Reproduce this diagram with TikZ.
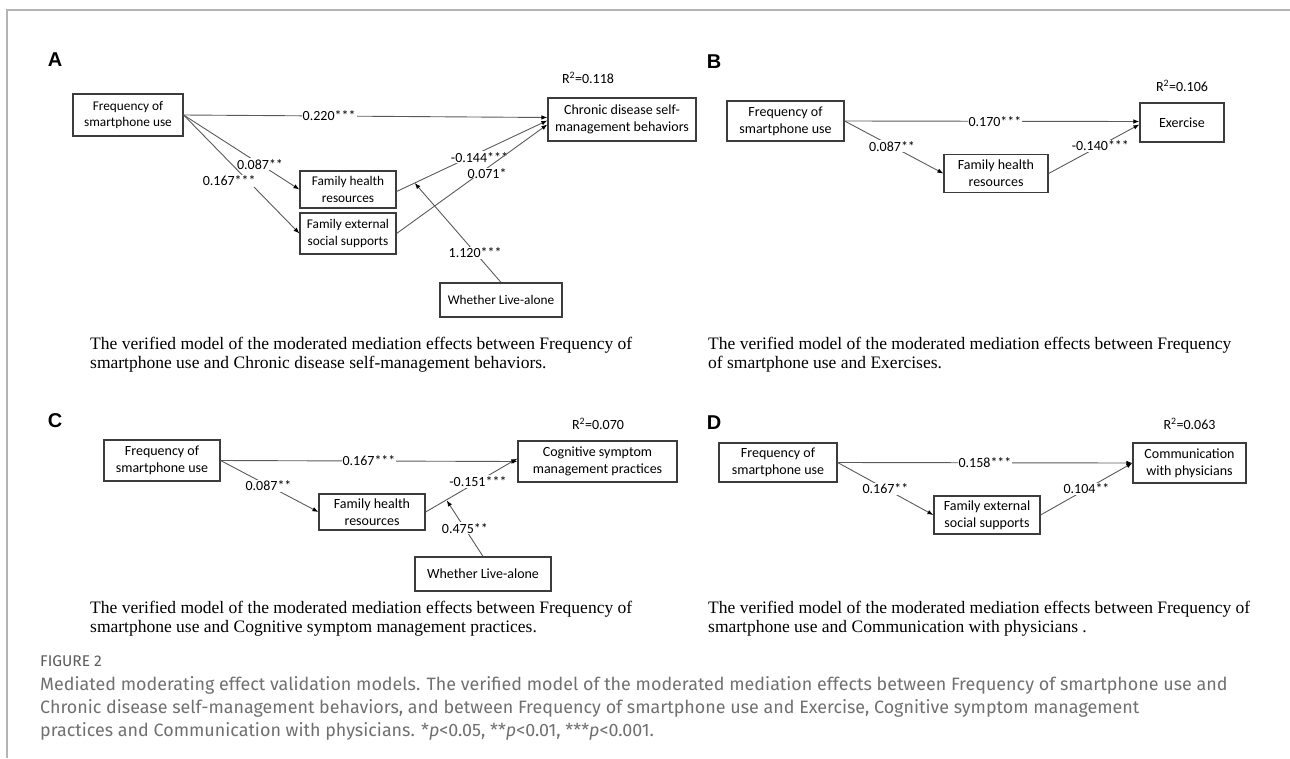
\documentclass[tikz,border=0pt]{standalone}
\usepackage{fontspec}
\usepackage{xcolor}
\usetikzlibrary{arrows.meta}
\setmainfont{Liberation Serif}
\newfontfamily\boxfont{Carlito}
\newfontfamily\letterfont{Liberation Sans}
\newfontfamily\figfont{Fira Sans}
\definecolor{framegray}{HTML}{B4B4B4}
\definecolor{linegray}{HTML}{5A5A5A}
\definecolor{boxgray}{HTML}{3C3C3C}
\definecolor{capgray}{HTML}{707070}

\begin{document}
\begin{tikzpicture}[x=1pt,y=-1pt,
    varbox/.style={draw=boxgray,line width=1.2pt,align=center,inner sep=0pt,
      font=\boxfont\fontsize{14}{17}\selectfont},
    small/.style={font=\boxfont\fontsize{13.3}{16.5}\selectfont},
    link/.style={draw=linegray,line width=0.9pt,-{Latex[length=6pt,width=4.5pt,color=black]}},
    coef/.style={fill=white,inner sep=1pt,font=\boxfont\fontsize{14}{17}\selectfont},
    rsq/.style={font=\boxfont\fontsize{14}{17}\selectfont},
    panel/.style={font=\letterfont\bfseries\fontsize{20}{24}\selectfont},
    note/.style={align=left,anchor=north west,inner sep=0pt,
      font=\fontsize{17.5}{19}\selectfont}]
    \useasboundingbox (0,0) rectangle (1290,758);
    % 边框
    \draw[framegray,line width=1.5pt] (1290,10) -- (7,10) -- (7,758);

    % 面板 A
    \node[panel] (la) at (55,60) {A};
    \node[varbox,small,minimum width=110pt,minimum height=42pt] (fa) at (128,115) {Frequency of\\smartphone use};
    \node[varbox,minimum width=148pt,minimum height=43pt] (chr) at (622,119.5) {Chronic disease self-\\management behaviors};
    \node[rsq] (ra) at (588,78) {R\textsuperscript{2}=0.118};
    \node[varbox,small,minimum width=96pt,minimum height=37pt] (fhra) at (348,189.5) {Family health\\resources};
    \node[varbox,small,minimum width=96pt,minimum height=41pt] (fessa) at (348,233.5) {Family external\\social supports};
    \node[varbox,small,minimum width=122pt,minimum height=34pt] (wla) at (501,300) {Whether Live-alone};
    \draw[link] (fa.east) -- node[coef,pos=.4] (a1) {0.220***} ([yshift=2pt]chr.west);
    \draw[link] (fa.east) -- node[coef,pos=.66] (a2) {0.087**} (fhra.west);
    \draw[link] (fa.east) -- node[coef,pos=.557,anchor=east,xshift=9pt] (a3) {0.167***} (fessa.west);
    \draw[link] ([yshift=-2pt]fhra.east) -- node[coef,pos=.55,yshift=-5pt] (a4) {-0.144***} ([yshift=-1pt]chr.west);
    \draw[link] (fessa.east) -- node[coef,pos=.6,yshift=-5pt,inner ysep=0pt] (a5) {0.071*} ([yshift=-5pt]chr.west);
    \path ([yshift=-2pt]fhra.east) -- ([yshift=-1pt]chr.west) coordinate[pos=.12] (ma);
    \draw[link] (wla.north) -- node[coef,pos=.3] (a6) {1.120***} (ma);
    \node[note] (capa) at (90,337) {The verified model of the moderated mediation effects between Frequency of\\smartphone use and Chronic disease self-management behaviors.};

    % 面板 B
    \node[panel] (lb) at (714,62) {B};
    \node[varbox,minimum width=117pt,minimum height=40pt] (fb) at (785.5,121) {Frequency of\\smartphone use};
    \node[varbox,minimum width=84pt,minimum height=39pt] (ex) at (1182,122.5) {Exercise};
    \node[rsq] (rb) at (1182,86) {R\textsuperscript{2}=0.106};
    \node[varbox,minimum width=104pt,minimum height=38pt] (fhrb) at (996,173.5) {Family health\\resources};
    \draw[link] (fb.east) -- node[coef,pos=.51] (b1) {0.170***} ([yshift=1pt]ex.west);
    \draw[link] (fb.east) -- node[coef,pos=.48] (b2) {0.087**} (fhrb.west);
    \draw[link] (fhrb.east) -- node[coef,pos=.57] (b3) {-0.140***} ([yshift=-2pt]ex.west);
    \node[note] (capb) at (708,337) {The verified model of the moderated mediation effects between Frequency\\of smartphone use and Exercises.};

    % 面板 C
    \node[panel] (lc) at (55,421) {C};
    \node[varbox,minimum width=116pt,minimum height=41pt] (fc) at (162,460.5) {Frequency of\\smartphone use};
    \node[varbox,minimum width=159pt,minimum height=41pt] (cog) at (597.5,461.5) {Cognitive symptom\\management practices};
    \node[rsq] (rc) at (598,424) {R\textsuperscript{2}=0.070};
    \node[varbox,minimum width=106pt,minimum height=36pt] (fhrc) at (372,512) {Family health\\resources};
    \node[varbox,minimum width=136pt,minimum height=34pt] (wlc) at (483,574) {Whether Live-alone};
    \draw[link] (fc.east) -- node[coef,pos=.5] (c1) {0.167***} (cog.west);
    \draw[link] (fc.east) -- node[coef,pos=.49] (c2) {0.087**} (fhrc.west);
    \draw[link] (fhrc.east) -- node[coef,pos=.57] (c3) {-0.151***} ([yshift=3pt]cog.west);
    \path (fhrc.east) -- (cog.west) coordinate[pos=.23] (mc);
    \draw[link] (wlc.north) -- node[coef,pos=.5] (c4) {0.475**} (mc);
    \node[note] (capc) at (90,601) {The verified model of the moderated mediation effects between Frequency of\\smartphone use and Cognitive symptom management practices.};

    % 面板 D
    \node[panel] (ld) at (714,423) {D};
    \node[varbox,minimum width=118pt,minimum height=39pt] (fd) at (778,462.5) {Frequency of\\smartphone use};
    \node[varbox,minimum width=113pt,minimum height=40pt] (com) at (1189.5,463) {Communication\\with physicians};
    \node[rsq] (rd) at (1189.5,424) {R\textsuperscript{2}=0.063};
    \node[varbox,minimum width=106pt,minimum height=38pt] (fessd) at (987,515) {Family external\\social supports};
    \draw[link] (fd.east) -- node[coef,pos=.5] (d1) {0.158***} (com.west);
    \draw[link] (fd.east) -- node[coef,pos=.5] (d2) {0.167**} (fessd.west);
    \draw[link] (fessd.east) -- node[coef,pos=.5] (d3) {0.104**} (com.west);
    \node[note] (capd) at (708,601) {The verified model of the moderated mediation effects between Frequency of\\smartphone use and Communication with physicians .};

    % 图注
    \node[anchor=west,inner sep=0pt,text=capgray!80!black,font=\figfont\fontsize{15.5}{18}\selectfont] (fig) at (40,661) {FIGURE 2};
    \node[anchor=north west,align=left,inner sep=0pt,text=capgray,font=\figfont\fontsize{17.9}{23.2}\selectfont] (figcap) at (40,676)
      {Mediated moderating effect validation models. The verified model of the moderated mediation effects between Frequency of smartphone use and\\
       Chronic disease self-management behaviors, and between Frequency of smartphone use and Exercise, Cognitive symptom management\\
       practices and Communication with physicians. *\textit{p}<0.05, **\textit{p}<0.01, ***\textit{p}<0.001.};
\end{tikzpicture}
\end{document}
